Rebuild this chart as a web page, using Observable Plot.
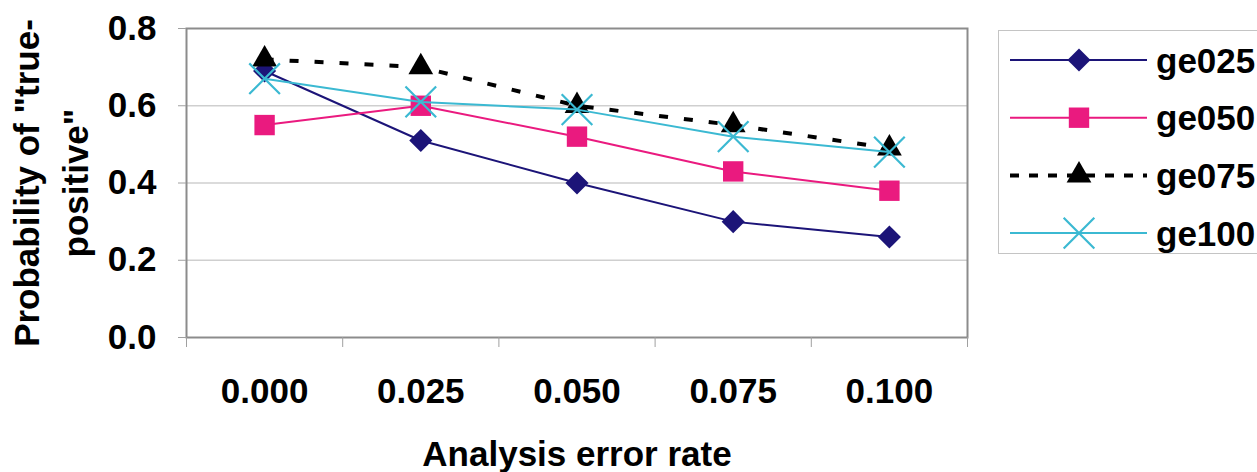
<!DOCTYPE html>
<html>
<head>
<meta charset="utf-8">
<script src="https://cdn.jsdelivr.net/npm/d3@7"></script>
<script src="https://cdn.jsdelivr.net/npm/@observablehq/plot@0.6"></script>
<style>
  html, body { margin: 0; padding: 0; background: #fff; }
  #wrap { position: relative; width: 1257px; height: 472px; overflow: hidden; font-family: "Liberation Sans", Arial, sans-serif; font-weight: bold; }
  #legend { position: absolute; left: 998px; top: 30px; width: 300px; height: 224px; border: 1.5px solid #c4c4c4; box-sizing: border-box; }
  #legend svg { position: absolute; left: 0; top: 0; }
</style>
</head>
<body>
<div id="wrap"></div>
<script>
// ---- data ----
const errorRates = [0, 0.025, 0.05, 0.075, 0.1];
const errorLabels = ["0.000", "0.025", "0.050", "0.075", "0.100"];
const seriesNames = ["ge025", "ge050", "ge075", "ge100"];
const ge025 = [0.69, 0.51, 0.40, 0.30, 0.26];
const ge050 = [0.55, 0.60, 0.52, 0.43, 0.38];
const ge075 = [0.72, 0.70, 0.60, 0.55, 0.49];
const ge100 = [0.67, 0.61, 0.59, 0.52, 0.48];
const yTicks = [0, 0.2, 0.4, 0.6, 0.8];

// ---- styles ----
const styles = {
  ge025: {color: "#1c1478", symbol: "diamond2", r: 10.4, fill: true, dash: null, width: 2},
  ge050: {color: "#ea1a7f", symbol: "square", r: 11.5, fill: true, dash: null, width: 2},
  ge075: {color: "#000000", symbol: "triangle", r: 9.2, fill: true, dash: "9,16", width: 4},
  ge100: {color: "#3bb9d2", symbol: "times", r: 14, fill: false, dash: null, width: 2}
};
const valuesBySeries = {ge025, ge050, ge075, ge100};

const data = seriesNames.flatMap(s => valuesBySeries[s].map((v, i) => ({series: s, x: errorRates[i], y: v})));

const step = errorRates[1] - errorRates[0];
const boundaries = errorRates.map(x => x - step / 2).concat([errorRates[errorRates.length - 1] + step / 2]);

const marks = [
  Plot.gridY(yTicks.slice(1, -1), {stroke: "#cfcfcf", strokeOpacity: 1, strokeWidth: 1.5}),
  Plot.frame({stroke: "#8c8c8c", strokeWidth: 2}),
  Plot.axisY(yTicks, {tickFormat: d => d.toFixed(1), tickSize: 8, tickPadding: 22, fontSize: 35, fontWeight: "bold", stroke: "#a0a0a0", label: null}),
  Plot.axisX(errorRates, {tickFormat: d => errorLabels[errorRates.indexOf(d)], tickSize: 0, tickPadding: 41, fontSize: 35, fontWeight: "bold", label: null}),
  Plot.axisX(boundaries, {tickFormat: () => "", tickSize: 10, stroke: "#a0a0a0", label: null}),
  Plot.text(["Probability of \"true-\npositive\""], {frameAnchor: "left", textAnchor: "middle", rotate: -90, dx: -139, lineAnchor: "middle", lineHeight: 1.4, fontSize: 35, fontWeight: "bold", fill: "black"}),
  Plot.text(["Analysis error rate"], {frameAnchor: "bottom", textAnchor: "middle", dy: 117, lineAnchor: "middle", fontSize: 35, fontWeight: "bold", fill: "black"})
];

for (const s of seriesNames) {
  const st = styles[s];
  const d = data.filter(e => e.series === s);
  marks.push(Plot.line(d, {x: "x", y: "y", stroke: st.color, strokeWidth: st.width, strokeDasharray: st.dash, strokeLinecap: "butt"}));
  marks.push(Plot.dot(d, st.fill
    ? {x: "x", y: "y", symbol: st.symbol, r: st.r, fill: st.color, stroke: "none"}
    : {x: "x", y: "y", symbol: st.symbol, r: st.r, stroke: st.color, strokeWidth: 2.2, fill: "none"}));
}

const chart = Plot.plot({
  width: 1257,
  height: 472,
  marginLeft: 186,
  marginRight: 290,
  marginTop: 28,
  marginBottom: 135,
  style: {fontFamily: "'Liberation Sans', Arial, sans-serif", fontWeight: "bold", color: "black", background: "white", overflow: "visible"},
  x: {domain: [boundaries[0], boundaries[boundaries.length - 1]]},
  y: {domain: [0, 0.8]},
  marks
});
const wrap = document.getElementById("wrap");
wrap.appendChild(chart);

// ---- legend ----
const legend = document.createElement("div");
legend.id = "legend";
const ns = "http://www.w3.org/2000/svg";
const svg = document.createElementNS(ns, "svg");
svg.setAttribute("width", 300);
svg.setAttribute("height", 224);
const symbolMap = {diamond2: d3.symbolDiamond2, square: d3.symbolSquare, triangle: d3.symbolTriangle, times: d3.symbolTimes};
seriesNames.forEach((s, i) => {
  const st = styles[s];
  const cy = 29 + i * 57.7;
  const line = document.createElementNS(ns, "line");
  line.setAttribute("x1", 11); line.setAttribute("x2", 148);
  line.setAttribute("y1", cy); line.setAttribute("y2", cy);
  line.setAttribute("stroke", st.color);
  line.setAttribute("stroke-width", st.width);
  if (st.dash) line.setAttribute("stroke-dasharray", "9,10");
  svg.appendChild(line);
  const p = document.createElementNS(ns, "path");
  p.setAttribute("d", d3.symbol(symbolMap[st.symbol], Math.PI * st.r * st.r)());
  p.setAttribute("transform", `translate(80,${cy})`);
  if (st.fill) { p.setAttribute("fill", st.color); }
  else { p.setAttribute("fill", "none"); p.setAttribute("stroke", st.color); p.setAttribute("stroke-width", 2.2); }
  svg.appendChild(p);
  const t = document.createElementNS(ns, "text");
  t.setAttribute("x", 157);
  t.setAttribute("y", cy);
  t.setAttribute("dy", "0.36em");
  t.setAttribute("font-size", 35);
  t.setAttribute("font-weight", "bold");
  t.setAttribute("font-family", "'Liberation Sans', Arial, sans-serif");
  t.textContent = s;
  svg.appendChild(t);
});
legend.appendChild(svg);
wrap.appendChild(legend);
</script>
</body>
</html>
